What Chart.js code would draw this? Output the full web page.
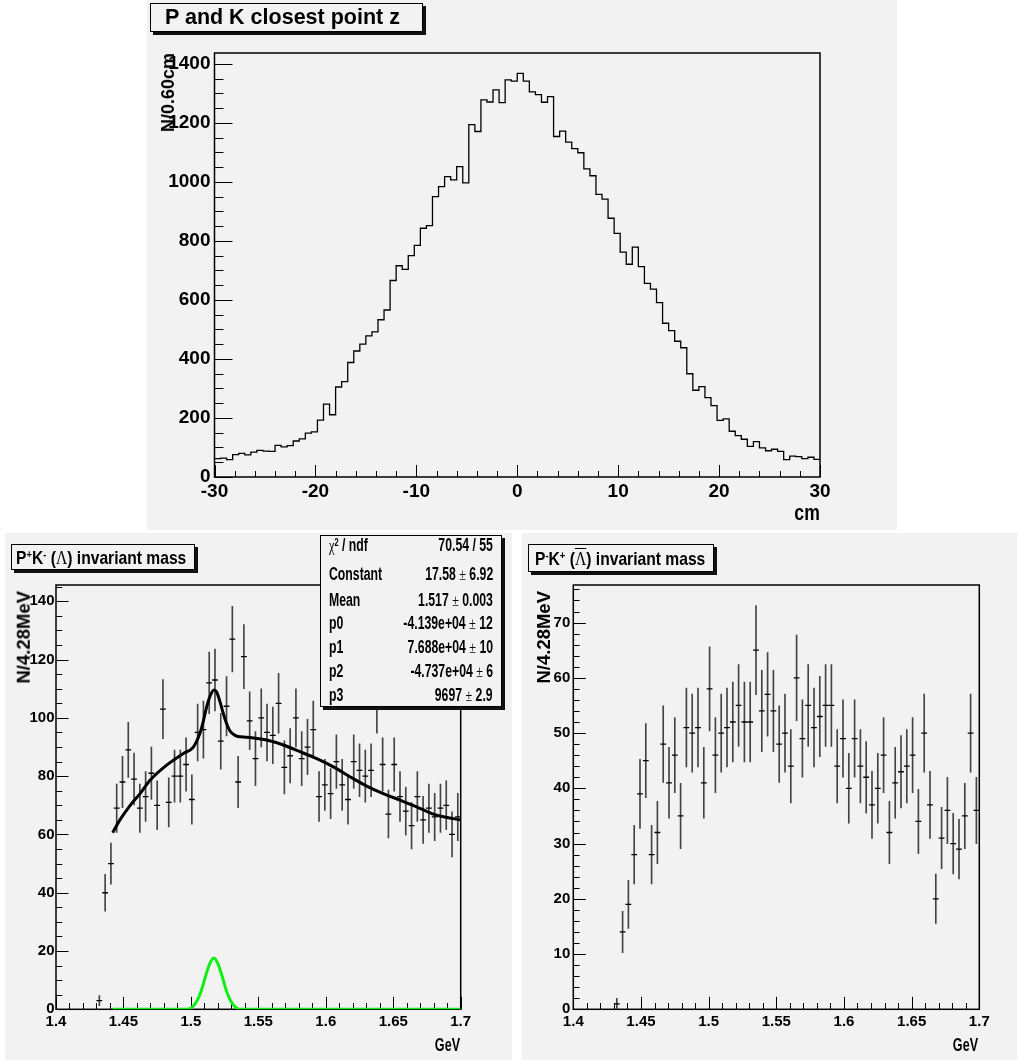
<!DOCTYPE html>
<html>
<head>
<meta charset="utf-8">
<script src="https://cdn.jsdelivr.net/npm/chart.js@4.4.1/dist/chart.umd.min.js"></script>
<style>
body { margin:0; width:1018px; height:1061px; background:#fff; position:relative; overflow:hidden;
       font-family:'Liberation Sans', Arial, sans-serif; }
.pad { position:absolute; background:#f2f2f2; }
.pad canvas { position:absolute; left:0; top:0; }
.tbox { position:absolute; background:#f2f2f2; border:1px solid #000; box-shadow:3px 3px 0 #111;
        box-sizing:border-box; white-space:nowrap; color:#000; font-weight:bold; }
.sq { display:inline-block; transform-origin:0 50%; white-space:nowrap; }
.ytit { position:absolute; transform-origin:0 0; transform:rotate(-90deg) translate(-100%,-50%);
        white-space:nowrap; font-weight:bold; line-height:1; color:#000; }
.xtit { position:absolute; white-space:nowrap; font-weight:bold; line-height:1; color:#000;
        transform-origin:100% 0; }
.sym { font-family:'Liberation Serif','DejaVu Serif', serif; font-weight:normal; }
.stats { position:absolute; left:320px; top:535px; width:182px; height:172px; background:#f2f2f2;
         border:1px solid #000; box-shadow:3px 3px 0 #111; box-sizing:border-box;
         font-size:17.5px; font-weight:bold; }
.stats .fila { position:absolute; left:8px; right:8px; height:18px; line-height:17.5px; }
.stats .l { position:absolute; left:0; top:0; white-space:nowrap; transform:scaleX(0.7); transform-origin:0 50%; }
.stats .r { position:absolute; right:0; top:0; white-space:nowrap; transform:scaleX(0.7); transform-origin:100% 50%; }
sup { font-size:60%; vertical-align:0.5em; line-height:0; }
</style>
</head>
<body>

<div class="pad" style="left:147px;top:0;width:750px;height:530px;">
  <canvas id="grafica-z" width="750" height="530"></canvas>
</div>
<div class="pad" style="left:5px;top:533px;width:507px;height:527px;">
  <canvas id="grafica-lambda" width="507" height="527"></canvas>
</div>
<div class="pad" style="left:522px;top:533px;width:495px;height:527px;">
  <canvas id="grafica-antilambda" width="495" height="527"></canvas>
</div>

<!-- títulos -->
<div class="tbox" style="left:150px;top:3px;width:273px;height:29px;font-size:21.5px;line-height:27px;padding-left:14px;">P and K closest point z</div>
<div class="tbox" style="left:11px;top:544px;width:184px;height:26px;font-size:18.5px;line-height:25px;padding-left:4px;"><span class="sq" style="transform:scaleX(0.845);">P<sup>+</sup>K<sup>-</sup> (<span class="sym">Λ</span>) invariant mass</span></div>
<div class="tbox" style="left:528px;top:544px;width:186px;height:28px;font-size:18.5px;line-height:28px;padding-left:6px;"><span class="sq" style="transform:scaleX(0.845);">P<sup>-</sup>K<sup>+</sup> (<span class="sym" style="text-decoration:overline;">Λ</span>) invariant mass</span></div>

<!-- títulos de ejes -->
<div class="ytit" style="left:168px;top:53px;font-size:18px;">N/0.60cm</div>
<div class="xtit" style="right:198px;top:502px;font-size:22px;transform:scaleX(0.8);">cm</div>
<div class="ytit" style="left:23.5px;top:591px;font-size:18.5px;">N/4.28MeV</div>
<div class="xtit" style="right:558px;top:1036px;font-size:18.5px;transform:scaleX(0.68);">GeV</div>
<div class="ytit" style="left:543.5px;top:591px;font-size:18.5px;">N/4.28MeV</div>
<div class="xtit" style="right:40px;top:1036px;font-size:18.5px;transform:scaleX(0.68);">GeV</div>

<!-- caja de estadísticas del ajuste -->
<div class="stats">
  <div class="fila" style="top:1px;"><span class="l"><span class="sym">χ</span><sup>2</sup> / ndf</span><span class="r">70.54 / 55</span></div>
  <div class="fila" style="top:30px;"><span class="l">Constant</span><span class="r">17.58 <span class="sym">±</span> 6.92</span></div>
  <div class="fila" style="top:56px;"><span class="l">Mean</span><span class="r">1.517 <span class="sym">±</span> 0.003</span></div>
  <div class="fila" style="top:79px;"><span class="l">p0</span><span class="r">-4.139e+04 <span class="sym">±</span> 12</span></div>
  <div class="fila" style="top:103px;"><span class="l">p1</span><span class="r">7.688e+04 <span class="sym">±</span> 10</span></div>
  <div class="fila" style="top:127px;"><span class="l">p2</span><span class="r">-4.737e+04 <span class="sym">±</span> 6</span></div>
  <div class="fila" style="top:151px;"><span class="l">p3</span><span class="r">9697 <span class="sym">±</span> 2.9</span></div>
</div>

<script>
// DATOS

// punto más cercano P-K en z: 100 bins de 0.60 cm entre -30 y 30
var zMin = -30, zMax = 30, zBins = 100;
var zCounts = [
  62, 64, 59, 76, 80, 75, 84, 90, 88, 87,
  107, 102, 106, 122, 129, 149, 153, 193, 247, 211,
  305, 323, 388, 427, 450, 478, 492, 533, 566, 666,
  716, 704, 750, 785, 843, 852, 950, 984, 1018, 1007,
  1052, 997, 1194, 1171, 1278, 1271, 1312, 1269, 1346, 1342,
  1368, 1342, 1305, 1296, 1270, 1289, 1154, 1172, 1135, 1113,
  1099, 1044, 1021, 958, 942, 877, 826, 762, 721, 779,
  713, 656, 637, 591, 521, 496, 460, 438, 350, 294,
  306, 269, 242, 192, 197, 155, 140, 128, 104, 120,
  99, 89, 94, 87, 59, 71, 69, 62, 67, 60
];
var zTicksX = [-30, -20, -10, 0, 10, 20, 30];
var zTicksY = [0, 200, 400, 600, 800, 1000, 1200, 1400];

// masa invariante: 70 bins de 4.28 MeV entre 1.4 y 1.7 GeV (null = bin vacío)
var mMin = 1.4, mMax = 1.7, mBins = 70;
var lamCounts = [
  null, null, null, null, null, null, null, 3, 40, 50,
  69, 78, 89, 79, 69, 73, 81, 70, 103, 71,
  80, 80, 84, 72, 95, 96, 112, 113, 92, 104,
  127, 78, 121, 99, 86, 100, 95, 94, 105, 83,
  87, 100, 86, 90, 96, 73, 77, 74, 85, 77,
  72, 85, 82, 80, 82, 105, 84, 67, 84, 73,
  68, 63, 73, 65, 69, 66, 69, 70, 60, 66
];
var antiCounts = [
  null, null, null, null, null, null, null, 1, 14, 19,
  28, 39, 45, 28, 32, 48, 41, 46, 35, 51,
  50, 51, 41, 58, 46, 50, 51, 52, 55, 52,
  52, 65, 54, 57, 54, 48, 50, 44, 60, 49,
  55, 51, 53, 55, 55, 44, 49, 40, 49, 44,
  42, 37, 40, 46, 32, 41, 43, 44, 46, 34,
  50, 37, 20, 31, 36, 30, 29, 35, 50, 36
];
var mTicksX = [1.4, 1.45, 1.5, 1.55, 1.6, 1.65, 1.7];
var lamTicksY = [0, 20, 40, 60, 80, 100, 120, 140];
var antiTicksY = [0, 10, 20, 30, 40, 50, 60, 70];

// curva del ajuste (gauss + pol3)
var fitX = [1.442, 1.4474, 1.455, 1.4623, 1.4697, 1.482, 1.4944, 1.5018, 1.5067, 1.509,
            1.5117, 1.5145, 1.5171, 1.519, 1.5216, 1.524, 1.5265, 1.529, 1.5327, 1.537,
            1.5438, 1.5562, 1.5685, 1.5809, 1.5933, 1.6056, 1.6179, 1.6303, 1.6426, 1.655,
            1.6673, 1.6797, 1.69, 1.7];
var fitY = [60.6, 65, 70, 74, 78.6, 83.8, 87.8, 90, 94.7, 98.5,
            103.8, 107.8, 109.6, 109, 105.5, 101.5, 98, 95.5, 94, 93.5,
            93.3, 92.4, 90.7, 88.4, 86, 83.2, 79.8, 76.6, 74, 71.8,
            69.5, 67, 65.8, 65];
// componente gaussiana sola
var gausX = [1.442, 1.498, 1.502, 1.505, 1.508, 1.511, 1.514, 1.517, 1.520, 1.523, 1.526, 1.529, 1.532, 1.536, 1.7];
var gausY = [0, 0, 1.2, 3.3, 6.8, 11.6, 15.7, 17.6, 15.7, 11.6, 6.8, 3.3, 1.2, 0, 0];

// ESTILO ROOT: marco y marcas hacia dentro

var marcoRoot = {
  id: 'marcoRoot',
  beforeDatasetsDraw: function(chart, args, o) {
    var ctx = chart.ctx, a = chart.chartArea;
    var sx = chart.scales.x, sy = chart.scales.y;
    ctx.save();
    ctx.strokeStyle = '#000';
    ctx.lineWidth = 1;
    ctx.beginPath();
    var n = Math.round((sx.max - sx.min) / o.xMinor);
    for (var i = 0; i <= n; i++) {
      var v = sx.min + i * o.xMinor;
      var big = o.xMajor.some(m => Math.abs(m - v) < o.xMinor / 10);
      var px = Math.round(sx.getPixelForValue(v)) + 0.5;
      ctx.moveTo(px, a.bottom);
      ctx.lineTo(px, a.bottom - (big ? o.xLen : o.xLen / 2));
    }
    var ny = Math.floor(sy.max / o.yMinor);
    for (var j = 0; j <= ny; j++) {
      var w = j * o.yMinor;
      var grande = o.yMajor.some(m => Math.abs(m - w) < o.yMinor / 10);
      var py = Math.round(sy.getPixelForValue(w)) + 0.5;
      ctx.moveTo(a.left, py);
      ctx.lineTo(a.left + (grande ? o.yLen : o.yLen / 2), py);
    }
    ctx.stroke();
    ctx.lineWidth = 1.5;
    ctx.strokeRect(a.left, a.top, a.right - a.left, a.bottom - a.top);
    ctx.restore();
  }
};

function escalas(c) {
  return {
    x: {
      type: 'linear', min: c.xMin, max: c.xMax, offset: false,
      grid: { display: false, drawTicks: false, offset: false },
      border: { display: false },
      afterBuildTicks: function(s) { s.ticks = c.xTicks.map(v => ({ value: v })); },
      afterFit: function(s) { s.height = c.xH; s.paddingLeft = 0; s.paddingRight = 0; },
      ticks: { autoSkip: false, maxRotation: 0, minRotation: 0, padding: c.xPad, color: '#000',
               font: c.font, callback: v => String(+v.toFixed(2)) }
    },
    y: {
      type: 'linear', min: 0, max: c.yMax,
      grid: { display: false, drawTicks: false },
      border: { display: false },
      afterBuildTicks: function(s) { s.ticks = c.yTicks.map(v => ({ value: v })); },
      afterFit: function(s) { s.width = c.yW; s.paddingTop = 0; s.paddingBottom = 0; },
      ticks: { autoSkip: false, padding: c.yPad, color: '#000', font: c.font, callback: v => String(v) }
    }
  };
}

function binCentro(i) { return mMin + (i + 0.5) * (mMax - mMin) / mBins; }

function datosError(counts) {
  var out = [];
  counts.forEach(function(n, i) {
    if (n === null) return;
    var e = Math.sqrt(n);
    out.push({ x: binCentro(i), y: [n - e, n + e] });
  });
  return out;
}

function datosMarca(counts) {
  var out = [];
  counts.forEach(function(n, i) {
    if (n !== null) out.push({ x: binCentro(i), y: n });
  });
  return out;
}

function xy(xs, ys) { return xs.map((x, i) => ({ x: x, y: ys[i] })); }

var fuenteGrande = { family: "'Liberation Sans', Arial, sans-serif", size: 19, weight: 'bold' };
var fuenteChica = { family: "'Liberation Sans', Arial, sans-serif", size: 15, weight: 'bold' };

// GRÁFICA z

function crearGraficaZ() {
  var ctx = document.getElementById('grafica-z').getContext('2d');
  var ancho = (zMax - zMin) / zBins;
  var puntos = zCounts.map((n, i) => ({ x: zMin + i * ancho, y: n }));
  puntos.push({ x: zMax, y: zCounts[zCounts.length - 1] });

  new Chart(ctx, {
    type: 'line',
    data: {
      datasets: [{
        data: puntos,
        stepped: true,
        borderColor: '#000',
        borderWidth: 1.3,
        pointRadius: 0,
        fill: false
      }]
    },
    options: {
      responsive: false, animation: false, devicePixelRatio: 1,
      layout: { padding: { left: 7.5, right: 77, top: 53, bottom: 13 } },
      plugins: {
        legend: { display: false }, tooltip: { enabled: false },
        marcoRoot: { xMajor: zTicksX, xMinor: 2, xLen: 12, yMajor: zTicksY, yMinor: 50, yLen: 18 }
      },
      scales: escalas({ xMin: zMin, xMax: zMax, xTicks: zTicksX, xH: 40, xPad: 3,
                        yMax: 1437, yTicks: zTicksY, yW: 60, yPad: 4, font: fuenteGrande })
    },
    plugins: [marcoRoot]
  });
}

// GRÁFICAS DE MASA INVARIANTE

function crearGraficaMasa(id, counts, yMax, yTicks, yMinor, conAjuste, pad) {
  var ctx = document.getElementById(id).getContext('2d');
  var conjuntos = [];
  if (conAjuste) {
    conjuntos.push({
      type: 'line', data: xy(fitX, fitY), borderColor: '#000', borderWidth: 3,
      pointRadius: 0, cubicInterpolationMode: 'monotone', fill: false
    });
    conjuntos.push({
      type: 'line', data: xy(gausX, gausY), borderColor: '#11ee11', borderWidth: 3,
      pointRadius: 0, cubicInterpolationMode: 'monotone', fill: false
    });
  }
  conjuntos.push({
    type: 'scatter', data: datosMarca(counts), pointStyle: 'line', pointRadius: 2.9,
    borderColor: '#000', borderWidth: 1.3, pointHoverRadius: 2.9
  });
  conjuntos.push({
    type: 'bar', data: datosError(counts), backgroundColor: '#444', barThickness: 1,
    borderWidth: 0
  });

  new Chart(ctx, {
    type: 'scatter',
    data: { datasets: conjuntos },
    options: {
      responsive: false, animation: false, devicePixelRatio: 1,
      layout: { padding: { left: pad.l, right: pad.r, top: 52, bottom: 15.7 } },
      plugins: {
        legend: { display: false }, tooltip: { enabled: false },
        marcoRoot: { xMajor: mTicksX, xMinor: 0.01, xLen: 12.5, yMajor: yTicks, yMinor: yMinor, yLen: 12.5 }
      },
      scales: escalas({ xMin: mMin, xMax: mMax, xTicks: mTicksX, xH: 35, xPad: 4,
                        yMax: yMax, yTicks: yTicks, yW: 40, yPad: pad.yp, font: fuenteChica })
    },
    plugins: [marcoRoot]
  });
}

crearGraficaZ();
crearGraficaMasa('grafica-lambda', lamCounts, 145.6, lamTicksY, 5, true, { l: 11, r: 51.3, yp: 1.5 });
crearGraficaMasa('grafica-antilambda', antiCounts, 76.8, antiTicksY, 2, false, { l: 11.3, r: 37.7, yp: 3 });
</script>
</body>
</html>
